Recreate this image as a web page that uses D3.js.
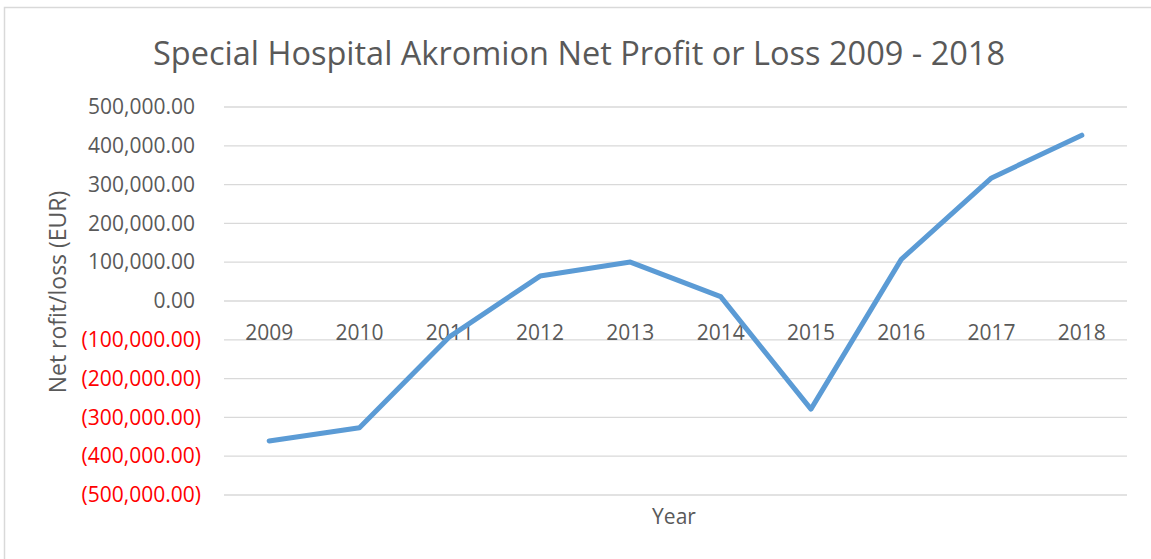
<!DOCTYPE html>
<html lang="en">
<head>
<meta charset="utf-8">
<title>Special Hospital Akromion Net Profit or Loss</title>
<script src="https://d3js.org/d3.v7.min.js"></script>
<style>
  body { margin: 0; background: #fff; }
  text { font-family: "Open Sans", "Noto Sans", sans-serif; }
</style>
</head>
<body>
<script>
// data
const years = ["2009", "2010", "2011", "2012", "2013", "2014", "2015", "2016", "2017", "2018"];
const netProfit = [-362000, -328000, -93000, 63000, 99000, 10000, -280000, 106000, 316000, 426000];
const yTicks = [500000, 400000, 300000, 200000, 100000, 0, -100000, -200000, -300000, -400000, -500000];

const w = 1151, h = 559;
const plotL = 224, plotR = 1127, plotT = 106.5, plotB = 494.5;

const svg = d3.select("body").append("svg")
  .attr("width", w)
  .attr("height", h);

// chart border
svg.append("rect")
  .attr("x", 4.5).attr("y", 7.5)
  .attr("width", w + 10).attr("height", h + 10)
  .attr("fill", "none")
  .attr("stroke", "#d9d9d9")
  .attr("stroke-width", 1.5);

const x = d3.scaleBand().domain(years).range([plotL, plotR]);
const y = d3.scaleLinear().domain([-500000, 500000]).range([plotB, plotT]);

const fmt = d3.format(",.2f");

// grid + y labels
const yAxis = d3.axisLeft(y)
  .tickValues(yTicks)
  .tickSize(-(plotR - plotL))
  .tickPadding(0)
  .tickFormat(d => d < 0 ? "(" + fmt(-d) + ")" : fmt(d));

const gy = svg.append("g")
  .attr("transform", "translate(" + plotL + ",0)")
  .call(yAxis);
gy.select(".domain").remove();
gy.selectAll(".tick line").attr("stroke", "#d9d9d9").attr("stroke-width", 1.3);
gy.selectAll(".tick text")
  .attr("x", d => d < 0 ? -23 : -29)
  .attr("dy", "0.34em")
  .attr("font-size", 21)
  .attr("fill", d => d < 0 ? "#ff0000" : "#595959");

// x labels sit just under zero line
const xAxis = d3.axisBottom(x).tickSize(0).tickPadding(0);
const gx = svg.append("g")
  .attr("transform", "translate(0," + y(0) + ")")
  .call(xAxis);
gx.select(".domain").remove();
gx.selectAll(".tick text")
  .attr("y", 39)
  .attr("dy", 0)
  .attr("font-size", 21)
  .attr("fill", "#595959");

// the line
const line = d3.line()
  .x((d, i) => x(years[i]) + x.bandwidth() / 2)
  .y(d => y(d));

svg.append("path")
  .datum(netProfit)
  .attr("d", line)
  .attr("fill", "none")
  .attr("stroke", "#5b9bd5")
  .attr("stroke-width", 5)
  .attr("stroke-linecap", "round")
  .attr("stroke-linejoin", "round");

// title
svg.append("text")
  .attr("x", 579)
  .attr("y", 65)
  .attr("text-anchor", "middle")
  .attr("font-size", 32.5)
  .attr("fill", "#595959")
  .text("Special Hospital Akromion Net Profit or Loss 2009 - 2018");

// axis titles
svg.append("text")
  .attr("x", 674)
  .attr("y", 524)
  .attr("text-anchor", "middle")
  .attr("font-size", 21)
  .attr("fill", "#595959")
  .text("Year");

svg.append("text")
  .attr("transform", "translate(66,292) rotate(-90)")
  .attr("text-anchor", "middle")
  .attr("font-size", 23)
  .attr("fill", "#595959")
  .text("Net rofit/loss (EUR)");
</script>
</body>
</html>
